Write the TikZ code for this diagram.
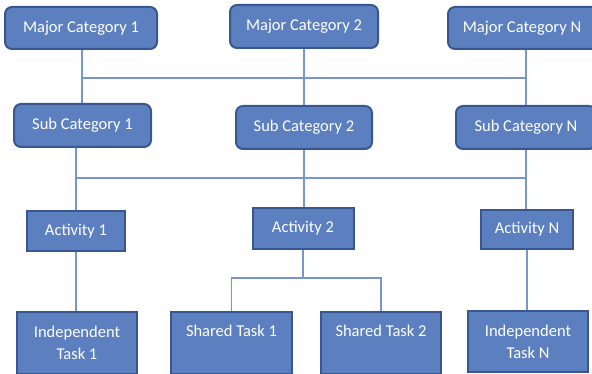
\documentclass[tikz,border=0pt]{standalone}
\usepackage{fontspec}
\setmainfont{Carlito}
\usetikzlibrary{calc}
\definecolor{boxfill}{HTML}{5B7FBF}
\definecolor{boxline}{HTML}{39578F}
\definecolor{wire}{HTML}{7896CC}
\tikzset{
  base/.style={draw=boxline, line width=2pt, fill=boxfill, text=white,
    font=\fontsize{16.5}{22}\selectfont, align=center, inner sep=0pt},
  roundbox/.style={base, rounded corners=7pt},
  sqbox/.style={base},
  wirestyle/.style={draw=wire, line width=1.3pt}
}
\begin{document}
\begin{tikzpicture}[x=1pt,y=-1pt]
\useasboundingbox (0,0) rectangle (592,374);
\clip (0,0) rectangle (592,374);
\coordinate (bus1L) at (82,78);
\coordinate (bus1R) at (526,78);
\coordinate (bus2L) at (76,178);
\coordinate (bus2R) at (526,178);
\coordinate (bus3L) at (231,278);
\coordinate (bus3R) at (381,278);
% nodes
\node[roundbox, minimum width=152pt, minimum height=42pt] (maj1) at (81,28) {Major Category 1};
\node[roundbox, minimum width=148pt, minimum height=43pt] (maj2) at (304,26.5) {Major Category 2};
\node[roundbox, minimum width=156pt, minimum height=42pt] (majN) at (526,28) {\hspace*{-8pt}Major Category N};
\node[roundbox, minimum width=137pt, minimum height=43pt] (sub1) at (82.5,125.5) {Sub Category 1};
\node[roundbox, minimum width=136pt, minimum height=43pt] (sub2) at (304,127.5) {Sub Category 2};
\node[roundbox, minimum width=140pt, minimum height=43pt] (subN) at (526,127.5) {Sub Category N};
\node[sqbox, minimum width=98pt, minimum height=40pt] (act1) at (76,231) {Activity 1};
\node[sqbox, minimum width=101pt, minimum height=41pt] (act2) at (303,228.5) {Activity 2};
\node[sqbox, minimum width=92pt, minimum height=39pt] (actN) at (527,229.5) {Activity N};
\node[sqbox, minimum width=120pt, minimum height=62pt] (ind1) at (77,343) {Independent\\Task 1};
\node[sqbox, minimum width=121pt, minimum height=62pt] (sh1) at (231.5,343) {Shared Task 1\\[-4pt]\strut};
\node[sqbox, minimum width=120pt, minimum height=62pt] (sh2) at (381,343) {Shared Task 2\\[-4pt]\strut};
\node[sqbox, minimum width=120pt, minimum height=61pt] (indN) at (528,341.5) {Independent\\Task N};
% wires
\draw[wirestyle] (maj1.south -| bus1L) -- (sub1.north -| bus1L);
\draw[wirestyle] (maj2.south) -- (sub2.north);
\draw[wirestyle] (majN.south) -- (subN.north);
\draw[wirestyle] (bus1L) -- (bus1R);
\draw[wirestyle] (act1 |- sub1.south) -- (act1.north);
\draw[wirestyle] (sub2.south) -- (sub2.south |- act2.north);
\draw[wirestyle] (subN.south) -- (subN.south |- actN.north);
\draw[wirestyle] (bus2L) -- (bus2R);
\draw[wirestyle] (act1.south) -- (act1.south |- ind1.north);
\draw[wirestyle] (actN.south) -- (actN.south |- indN.north);
\draw[wirestyle] (act2.south) -- (act2.south |- bus3L);
\draw[wirestyle] (sh1.north) -- (sh1.north |- bus3L) -- (bus3R) -- (sh2.north);
\end{tikzpicture}
\end{document}
